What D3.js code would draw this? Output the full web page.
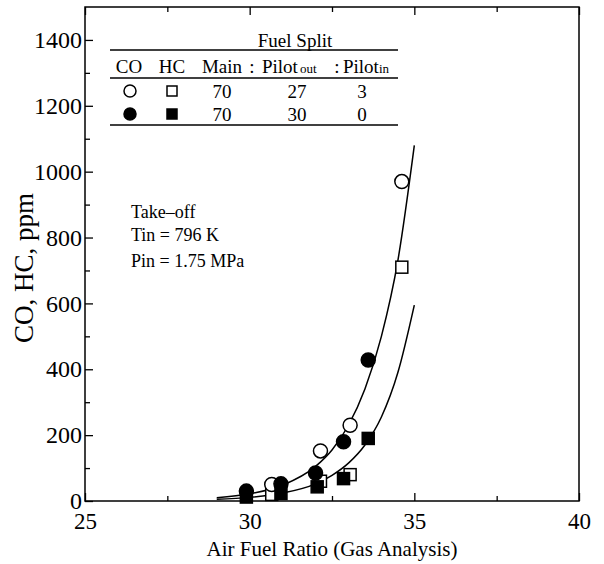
<!DOCTYPE html>
<html>
<head>
<meta charset="utf-8">
<script src="https://cdn.jsdelivr.net/npm/d3@7"></script>
<style>
  body { margin: 0; background: #fff; }
  svg text { font-family: "Liberation Serif", "Times New Roman", serif; fill: #000; }
</style>
</head>
<body>
<div id="chart"></div>
<script>
// measured points (open = 70/27/3 split, filled = 70/30/0 split)
var coOpenX = [30.67, 32.15, 33.05, 34.62];
var coOpenY = [50, 152, 230, 970];
var hcOpenX = [30.67, 32.15, 33.05, 34.62];
var hcOpenY = [20, 60, 80, 710];
var coFilledX = [29.9, 30.95, 32.0, 32.85, 33.6];
var coFilledY = [30, 52, 85, 180, 428];
var hcFilledX = [29.9, 30.95, 32.05, 32.85, 33.6];
var hcFilledY = [12, 23, 43, 68, 190];

// fitted curves
var fitCoX = [29, 30, 31, 32, 32.5, 33, 33.5, 34, 34.5, 35];
var fitCoY = [10, 22, 48, 105, 155, 230, 340, 500, 730, 1080];
var fitHcX = [29, 30, 31, 32, 32.5, 33, 33.5, 34, 34.5, 35];
var fitHcY = [5, 11, 24, 52, 78, 115, 170, 255, 390, 595];

var xTicks = [25, 30, 35, 40];
var yTicks = [0, 200, 400, 600, 800, 1000, 1200, 1400];

var legendRows = [
    { main: "70", pout: "27", pin: "3", filled: false },
    { main: "70", pout: "30", pin: "0", filled: true }
];

var width = 604;
var height = 564;
var margin = { top: 7, right: 25, bottom: 63, left: 85 };
var serif = "'Liberation Serif', 'Times New Roman', serif";

var svg = d3.select("#chart")
    .append("svg")
    .attr("width", width)
    .attr("height", height)
    .attr("font-family", serif);

var x = d3.scaleLinear().domain([25, 40]).range([margin.left, width - margin.right]);
var y = d3.scaleLinear().domain([0, 1500]).range([height - margin.bottom, margin.top]);

var x0 = x.range()[0], x1 = x.range()[1];
var y0 = y.range()[0], y1 = y.range()[1];

// frame
svg.append("rect")
    .attr("x", x0).attr("y", y1)
    .attr("width", x1 - x0).attr("height", y0 - y1)
    .attr("fill", "none").attr("stroke", "#000").attr("stroke-width", 1.5);

// bottom axis, ticks point inward
var xAxis = svg.append("g")
    .attr("transform", "translate(0," + y0 + ")")
    .call(d3.axisBottom(x).tickValues(xTicks).tickSize(-8).tickPadding(12).tickFormat(d3.format("d")));
xAxis.select(".domain").remove();
xAxis.attr("font-family", serif).attr("font-size", 23);

svg.append("g")
    .attr("transform", "translate(0," + y0 + ")")
    .call(d3.axisBottom(x).tickValues([27.5, 32.5, 37.5]).tickSize(-5).tickFormat(""))
    .select(".domain").remove();

// top axis ticks
svg.append("g")
    .attr("transform", "translate(0," + y1 + ")")
    .call(d3.axisTop(x).tickValues(xTicks).tickSize(-8).tickFormat(""))
    .select(".domain").remove();
svg.append("g")
    .attr("transform", "translate(0," + y1 + ")")
    .call(d3.axisTop(x).tickValues([27.5, 32.5, 37.5]).tickSize(-5).tickFormat(""))
    .select(".domain").remove();

// left axis
var yAxis = svg.append("g")
    .attr("transform", "translate(" + x0 + ",0)")
    .call(d3.axisLeft(y).tickValues(yTicks).tickSize(-8).tickPadding(4).tickFormat(d3.format("d")));
yAxis.select(".domain").remove();
yAxis.attr("font-family", serif).attr("font-size", 24);
yAxis.selectAll("text").attr("x", -3);

svg.append("g")
    .attr("transform", "translate(" + x0 + ",0)")
    .call(d3.axisLeft(y).tickValues([100, 300, 500, 700, 900, 1100, 1300]).tickSize(-5).tickFormat(""))
    .select(".domain").remove();

svg.selectAll(".tick line").attr("stroke", "#000").attr("stroke-width", 1.3);

// axis titles
svg.append("text")
    .attr("x", (x0 + x1) / 2)
    .attr("y", 556)
    .attr("text-anchor", "middle")
    .attr("font-size", 21)
    .text("Air Fuel Ratio (Gas Analysis)");

svg.append("text")
    .attr("transform", "translate(33,268) rotate(-90)")
    .attr("text-anchor", "middle")
    .attr("font-size", 27)
    .text("CO, HC, ppm");

// fitted curves
var line = d3.line()
    .x(function (d) { return x(d[0]); })
    .y(function (d) { return y(d[1]); })
    .curve(d3.curveMonotoneX);

svg.append("path")
    .attr("d", line(d3.zip(fitCoX, fitCoY)))
    .attr("fill", "none").attr("stroke", "#000").attr("stroke-width", 1.5);
svg.append("path")
    .attr("d", line(d3.zip(fitHcX, fitHcY)))
    .attr("fill", "none").attr("stroke", "#000").attr("stroke-width", 1.5);

// markers
var r = 7, s = 12;
function squares(xs, ys, filled) {
    svg.append("g").selectAll("rect")
        .data(d3.zip(xs, ys))
        .enter()
        .append("rect")
        .attr("x", function (d) { return x(d[0]) - s / 2; })
        .attr("y", function (d) { return y(d[1]) - s / 2; })
        .attr("width", s).attr("height", s)
        .attr("fill", filled ? "#000" : "#fff")
        .attr("stroke", "#000").attr("stroke-width", 1.5);
}
function circles(xs, ys, filled) {
    svg.append("g").selectAll("circle")
        .data(d3.zip(xs, ys))
        .enter()
        .append("circle")
        .attr("cx", function (d) { return x(d[0]); })
        .attr("cy", function (d) { return y(d[1]); })
        .attr("r", r)
        .attr("fill", filled ? "#000" : "#fff")
        .attr("stroke", "#000").attr("stroke-width", 1.5);
}
squares(hcOpenX, hcOpenY, false);
circles(coOpenX, coOpenY, false);
squares(hcFilledX, hcFilledY, true);
circles(coFilledX, coFilledY, true);

// annotation
var note = svg.append("g").attr("font-size", 18);
note.append("text").attr("x", 131).attr("y", 218).text("Take\u2013off");
note.append("text").attr("x", 131).attr("y", 241).text("Tin = 796 K");
note.append("text").attr("x", 131).attr("y", 267).text("Pin = 1.75 MPa");

// fuel split table
var legend = svg.append("g").attr("font-size", 19);
legend.append("text").attr("x", 295).attr("y", 47).attr("text-anchor", "middle").text("Fuel Split");
[50, 78, 125].forEach(function (ly) {
    legend.append("line")
        .attr("x1", 110).attr("x2", 398)
        .attr("y1", ly).attr("y2", ly)
        .attr("stroke", "#000").attr("stroke-width", 1.5);
});
legend.append("text").attr("x", 129).attr("y", 73).attr("text-anchor", "middle").text("CO");
legend.append("text").attr("x", 172).attr("y", 73).attr("text-anchor", "middle").text("HC");
legend.append("text").attr("x", 222).attr("y", 73).attr("text-anchor", "middle").text("Main");
legend.append("text").attr("x", 252).attr("y", 73).attr("text-anchor", "middle").text(":");
var h1 = legend.append("text").attr("x", 262).attr("y", 73);
h1.append("tspan").text("Pilot");
h1.append("tspan").attr("font-size", 13).attr("dx", 2).text("out");
legend.append("text").attr("x", 337).attr("y", 73).attr("text-anchor", "middle").text(":");
var h2 = legend.append("text").attr("x", 343).attr("y", 73);
h2.append("tspan").text("Pilot");
h2.append("tspan").attr("font-size", 13).text("in");

var rows = legend.selectAll(".row")
    .data(legendRows)
    .enter()
    .append("g")
    .attr("class", "row")
    .attr("transform", function (d, i) { return "translate(0," + (i * 23) + ")"; });
rows.append("circle")
    .attr("cx", 130).attr("cy", 91).attr("r", 6)
    .attr("fill", function (d) { return d.filled ? "#000" : "#fff"; })
    .attr("stroke", "#000").attr("stroke-width", 1.5);
rows.append("rect")
    .attr("x", 167).attr("y", 86).attr("width", 10).attr("height", 10)
    .attr("fill", function (d) { return d.filled ? "#000" : "#fff"; })
    .attr("stroke", "#000").attr("stroke-width", 1.5);
rows.append("text").attr("x", 222).attr("y", 98).attr("text-anchor", "middle").text(function (d) { return d.main; });
rows.append("text").attr("x", 297).attr("y", 98).attr("text-anchor", "middle").text(function (d) { return d.pout; });
rows.append("text").attr("x", 362).attr("y", 98).attr("text-anchor", "middle").text(function (d) { return d.pin; });
</script>
</body>
</html>
